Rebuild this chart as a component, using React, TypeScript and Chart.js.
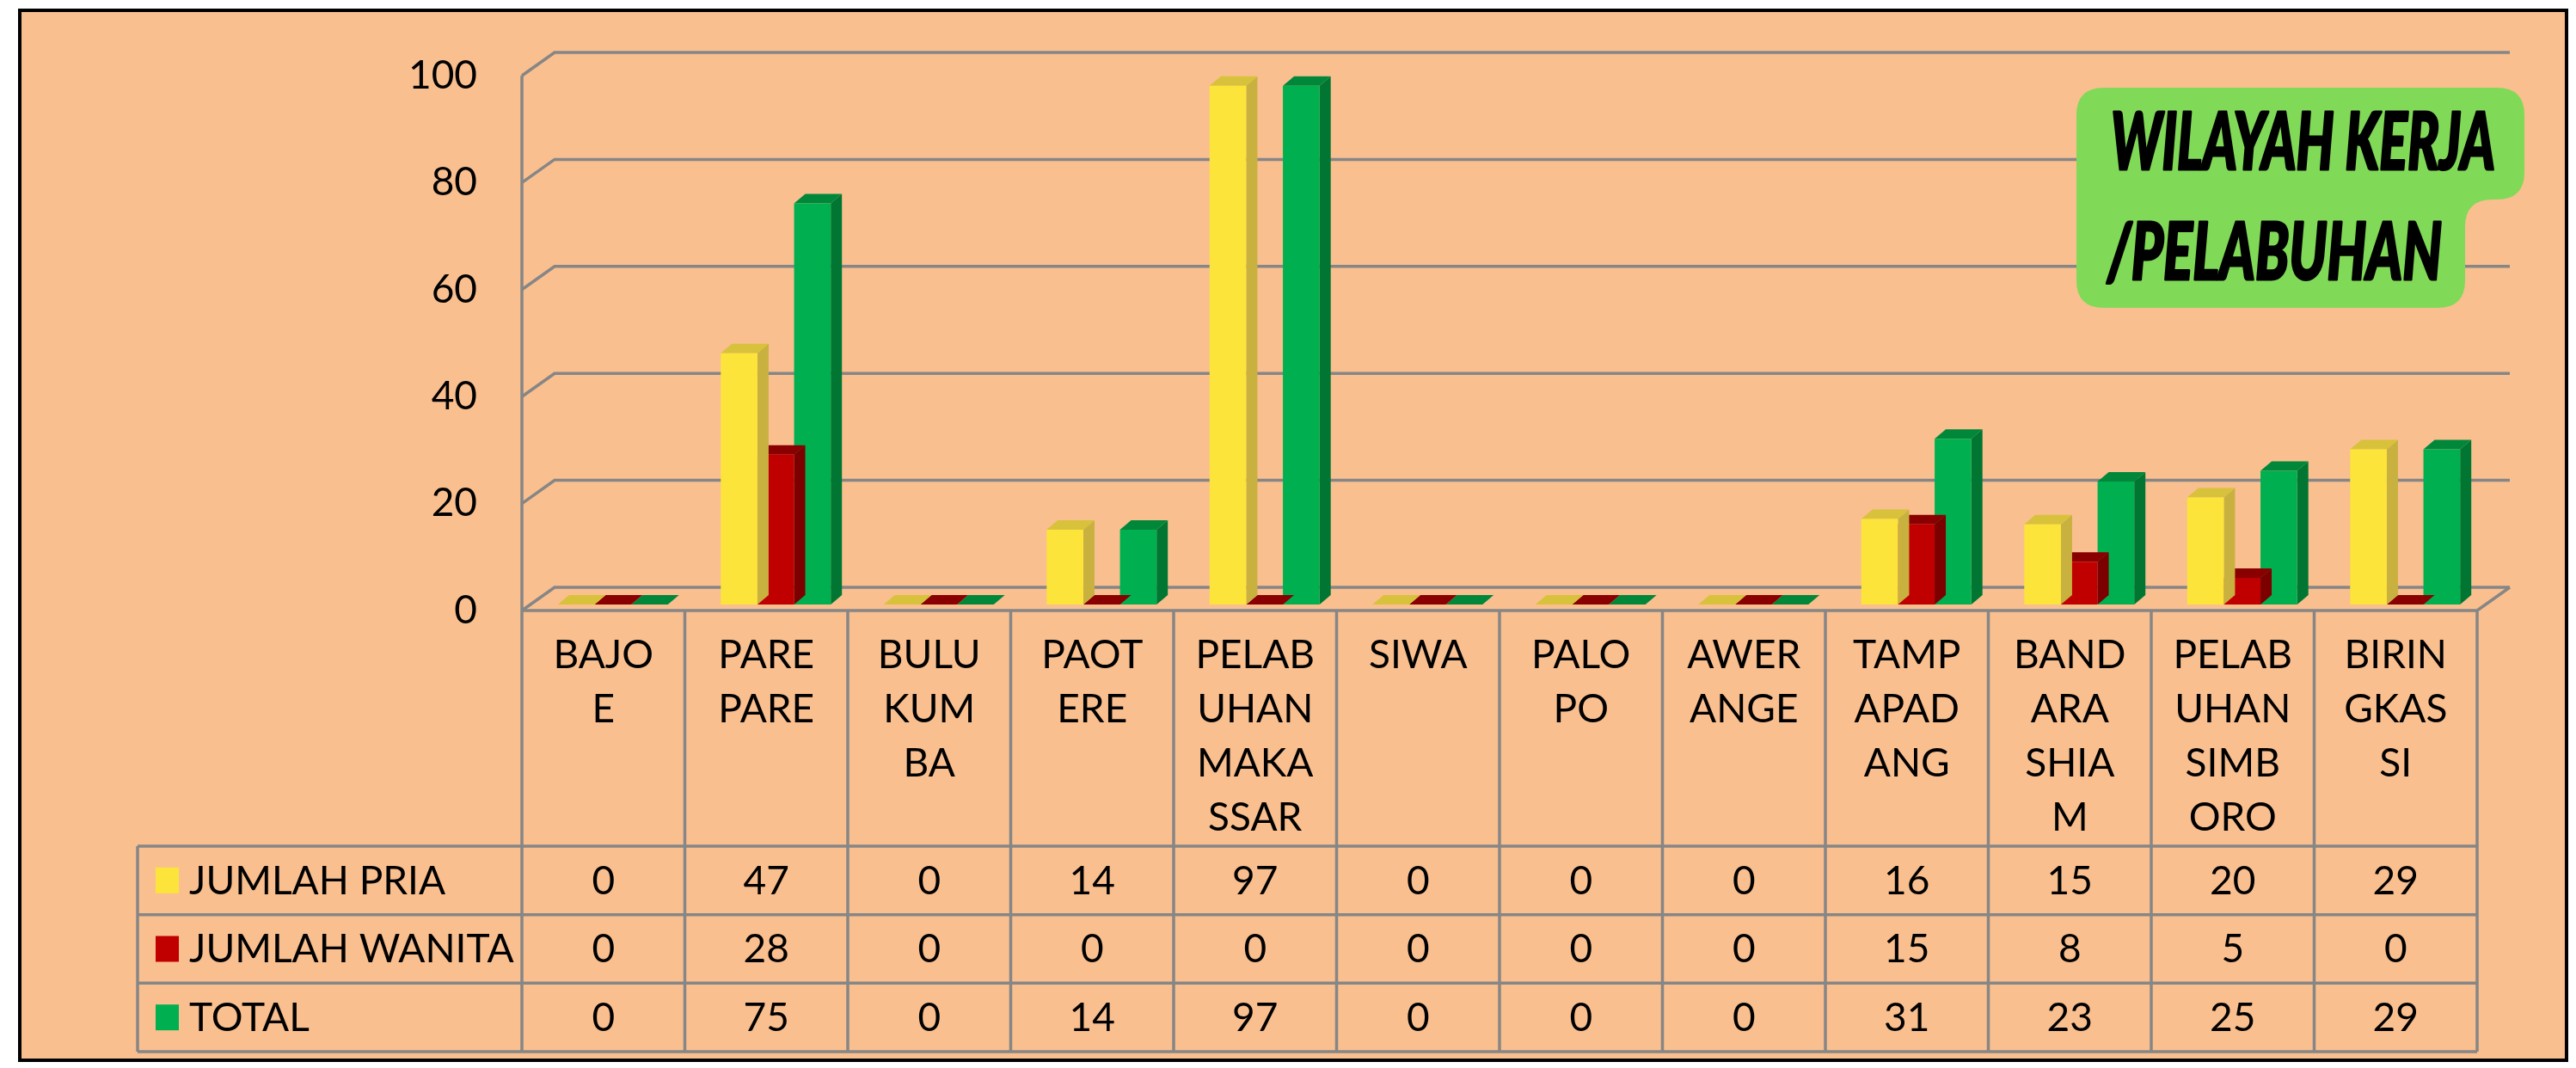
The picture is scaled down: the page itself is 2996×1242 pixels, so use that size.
import React, { useEffect, useRef } from 'react';
import { Chart, registerables } from 'chart.js';

Chart.register(...registerables);

// ---------- data ----------
const categories = [
  'BAJOE', 'PARE PARE', 'BULUKUMBA', 'PAOTERE', 'PELABUHAN MAKASSAR', 'SIWA',
  'PALOPO', 'AWERANGE', 'TAMPAPADANG', 'BANDARA SHIAM', 'PELABUHAN SIMBORO', 'BIRINGKASSI',
];
const categoryLabelLines = [
  ['BAJO', 'E'], ['PARE', 'PARE'], ['BULU', 'KUM', 'BA'], ['PAOT', 'ERE'],
  ['PELAB', 'UHAN', 'MAKA', 'SSAR'], ['SIWA'], ['PALO', 'PO'], ['AWER', 'ANGE'],
  ['TAMP', 'APAD', 'ANG'], ['BAND', 'ARA', 'SHIA', 'M'], ['PELAB', 'UHAN', 'SIMB', 'ORO'],
  ['BIRIN', 'GKAS', 'SI'],
];
const seriesNames = ['JUMLAH PRIA', 'JUMLAH WANITA', 'TOTAL'];
const jumlahPria = [0, 47, 0, 14, 97, 0, 0, 0, 16, 15, 20, 29];
const jumlahWanita = [0, 28, 0, 0, 0, 0, 0, 0, 15, 8, 5, 0];
const total = [0, 75, 0, 14, 97, 0, 0, 0, 31, 23, 25, 29];
const yTicks = [0, 20, 40, 60, 80, 100];
const titleLines = ['WILAYAH KERJA', '/PELABUHAN'];

const seriesValues = [jumlahPria, jumlahWanita, total];

// ---------- styles / layout ----------
const W = 2996;
const H = 1242;
const FONT = "Lato, 'Open Sans', sans-serif";
const PEACH = '#F9BF8F';
const GRID = '#868686';
const FRONT = ['#FDE43B', '#C00000', '#00B050'];
const TOP = ['#D8C23B', '#8A0000', '#00873A'];
const SIDE = ['#C9B13F', '#7C0000', '#007632'];
const TITLE_BG = '#80D957';

const DX = 38, DY = -27;   // wall depth
const SX = 11, SY = -7;    // bar plane shift
const BDX = 13, BDY = -11; // bar depth

const AREA_LEFT = 607, AREA_RIGHT = 2881, AREA_TOP = 88, AREA_BOTTOM = 710;
const HEADER_BOTTOM = 984;
const TABLE_BOTTOM = 1223;
const LEGEND_LEFT = 160;

function poly(ctx: CanvasRenderingContext2D, pts: number[][], color: string) {
  ctx.beginPath();
  ctx.moveTo(pts[0][0], pts[0][1]);
  for (let i = 1; i < pts.length; i++) ctx.lineTo(pts[i][0], pts[i][1]);
  ctx.closePath();
  ctx.fillStyle = color;
  ctx.fill();
}

const excel3d = {
  id: 'excel3d',
  beforeDraw(chart: any) {
    const { ctx } = chart;
    const xs = chart.scales.x;
    const ys = chart.scales.y;
    const L = chart.chartArea.left;
    const R = chart.chartArea.right;
    ctx.save();
    ctx.fillStyle = '#ffffff';
    ctx.fillRect(0, 0, W, H);
    ctx.fillStyle = PEACH;
    ctx.fillRect(23, 12, 2985 - 23, 1233 - 12);
    ctx.strokeStyle = '#000';
    ctx.lineWidth = 4;
    ctx.strokeRect(23, 12, 2985 - 23, 1233 - 12);

    ctx.strokeStyle = GRID;
    ctx.lineWidth = 3.5;
    ctx.lineJoin = 'miter';
    yTicks.forEach((v) => {
      const py = ys.getPixelForValue(v);
      ctx.beginPath();
      ctx.moveTo(L, py);
      ctx.lineTo(L + DX, py + DY);
      ctx.lineTo(R + DX, py + DY);
      ctx.stroke();
    });
    const p0 = ys.getPixelForValue(0);
    const pTop = ys.getPixelForValue(yTicks[yTicks.length - 1]);
    ctx.beginPath();
    ctx.moveTo(L, p0);
    ctx.lineTo(R, p0);
    ctx.lineTo(R + DX, p0 + DY);
    ctx.stroke();
    ctx.beginPath();
    ctx.moveTo(L, pTop);
    ctx.lineTo(L, TABLE_BOTTOM);
    ctx.stroke();

    const rowH = (TABLE_BOTTOM - HEADER_BOTTOM) / 3;
    for (let i = 1; i <= categories.length; i++) {
      const bx = xs.getPixelForValue(i - 0.5);
      ctx.beginPath();
      ctx.moveTo(bx, p0);
      ctx.lineTo(bx, TABLE_BOTTOM);
      ctx.stroke();
    }
    for (let r = 0; r <= 3; r++) {
      const yy = HEADER_BOTTOM + r * rowH;
      ctx.beginPath();
      ctx.moveTo(LEGEND_LEFT, yy);
      ctx.lineTo(R, yy);
      ctx.stroke();
    }
    ctx.beginPath();
    ctx.moveTo(LEGEND_LEFT, HEADER_BOTTOM);
    ctx.lineTo(LEGEND_LEFT, TABLE_BOTTOM);
    ctx.stroke();
    ctx.restore();
  },
  beforeDatasetsDraw(chart: any) {
    chart.ctx.save();
    chart.ctx.translate(SX, SY);
  },
  beforeDatasetDraw(chart: any, args: any) {
    const { ctx } = chart;
    const i = args.index;
    args.meta.data.forEach((el: any) => {
      const l = el.x - el.width / 2;
      const r = el.x + el.width / 2;
      const top = Math.min(el.y, el.base);
      const base = el.base;
      poly(ctx, [[r, top], [r + BDX, top + BDY], [r + BDX, base + BDY], [r, base]], SIDE[i]);
      poly(ctx, [[l, top], [l + BDX, top + BDY], [r + BDX, top + BDY], [r, top]], TOP[i]);
    });
  },
  afterDatasetsDraw(chart: any) {
    chart.ctx.restore();
  },
  afterDraw(chart: any) {
    const { ctx } = chart;
    const xs = chart.scales.x;
    const rowH = (TABLE_BOTTOM - HEADER_BOTTOM) / 3;
    ctx.save();
    ctx.font = `46px ${FONT}`;
    ctx.textBaseline = 'middle';
    ctx.fillStyle = '#000';
    seriesNames.forEach((name, s) => {
      const cy = HEADER_BOTTOM + rowH * s + rowH / 2;
      ctx.fillStyle = FRONT[s];
      ctx.fillRect(181, cy - 15, 27, 30);
      ctx.fillStyle = '#000';
      ctx.textAlign = 'left';
      ctx.fillText(name, 220, cy + 1);
      ctx.textAlign = 'center';
      seriesValues[s].forEach((v, c) => {
        ctx.fillText(String(v), xs.getPixelForValue(c), cy + 1);
      });
    });

    // title box
    const x0 = 2415, x1 = 2936, x2 = 2867, y0 = 102, y1 = 232, y2 = 358, r = 32;
    ctx.beginPath();
    ctx.moveTo(x0 + r, y0);
    ctx.lineTo(x1 - r, y0);
    ctx.quadraticCurveTo(x1, y0, x1, y0 + r);
    ctx.lineTo(x1, y1 - r);
    ctx.quadraticCurveTo(x1, y1, x1 - r, y1);
    ctx.lineTo(x2 + r, y1);
    ctx.quadraticCurveTo(x2, y1, x2, y1 + r);
    ctx.lineTo(x2, y2 - r);
    ctx.quadraticCurveTo(x2, y2, x2 - r, y2);
    ctx.lineTo(x0 + r, y2);
    ctx.quadraticCurveTo(x0, y2, x0, y2 - r);
    ctx.lineTo(x0, y0 + r);
    ctx.quadraticCurveTo(x0, y0, x0 + r, y0);
    ctx.closePath();
    ctx.fillStyle = TITLE_BG;
    ctx.fill();

    ctx.fillStyle = '#000';
    ctx.strokeStyle = '#000';
    ctx.lineWidth = 3;
    ctx.lineJoin = 'round';
    ctx.textAlign = 'left';
    ctx.textBaseline = 'alphabetic';
    ctx.font = `italic 900 92px Lato, 'Liberation Sans', sans-serif`;
    const spots = [
      { x: 2455, yb: 197, w: 447 },
      { x: 2451, yb: 325, w: 389 },
    ];
    titleLines.forEach((t, k) => {
      const m = ctx.measureText(t).width;
      ctx.save();
      ctx.translate(spots[k].x, spots[k].yb);
      ctx.scale(spots[k].w / m, 1);
      ctx.fillText(t, 0, 0);
      ctx.strokeText(t, 0, 0);
      ctx.restore();
    });
    ctx.restore();
  },
};

export default function App() {
  const ref = useRef<HTMLCanvasElement>(null);
  useEffect(() => {
    document.body.style.margin = '0';
    document.body.style.overflow = 'hidden';
    const chart = new Chart(ref.current as HTMLCanvasElement, {
      type: 'bar',
      data: {
        labels: categoryLabelLines as any,
        datasets: seriesNames.map((name, i) => ({
          label: name,
          data: seriesValues[i],
          backgroundColor: FRONT[i],
          borderWidth: 0,
          categoryPercentage: 0.675,
          barPercentage: 1,
          clip: false as any,
        })),
      },
      options: {
        responsive: false,
        animation: false,
        devicePixelRatio: 1,
        layout: {
          padding: { left: 0, right: W - AREA_RIGHT, top: AREA_TOP, bottom: H - HEADER_BOTTOM },
        },
        plugins: { legend: { display: false }, tooltip: { enabled: false }, title: { display: false } },
        scales: {
          x: {
            type: 'category',
            offset: true,
            grid: { display: false, drawTicks: false },
            border: { display: false },
            ticks: {
              color: '#000',
              padding: 21,
              maxRotation: 0,
              minRotation: 0,
              autoSkip: false,
              font: { family: FONT, size: 46, lineHeight: 1.37 },
            },
            afterFit: (s: any) => { s.height = HEADER_BOTTOM - AREA_BOTTOM; },
          },
          y: {
            min: 0,
            max: 100,
            grid: { display: false, drawTicks: false },
            border: { display: false },
            ticks: {
              color: '#000',
              padding: 52,
              font: { family: FONT, size: 46 },
            },
            afterBuildTicks: (s: any) => { s.ticks = yTicks.map((v) => ({ value: v })); },
            afterFit: (s: any) => { s.width = AREA_LEFT; },
          },
        },
      },
      plugins: [excel3d],
    });
    return () => chart.destroy();
  }, []);
  return <canvas ref={ref} width={W} height={H} style={{ display: 'block', width: W, height: H }} />;
}
